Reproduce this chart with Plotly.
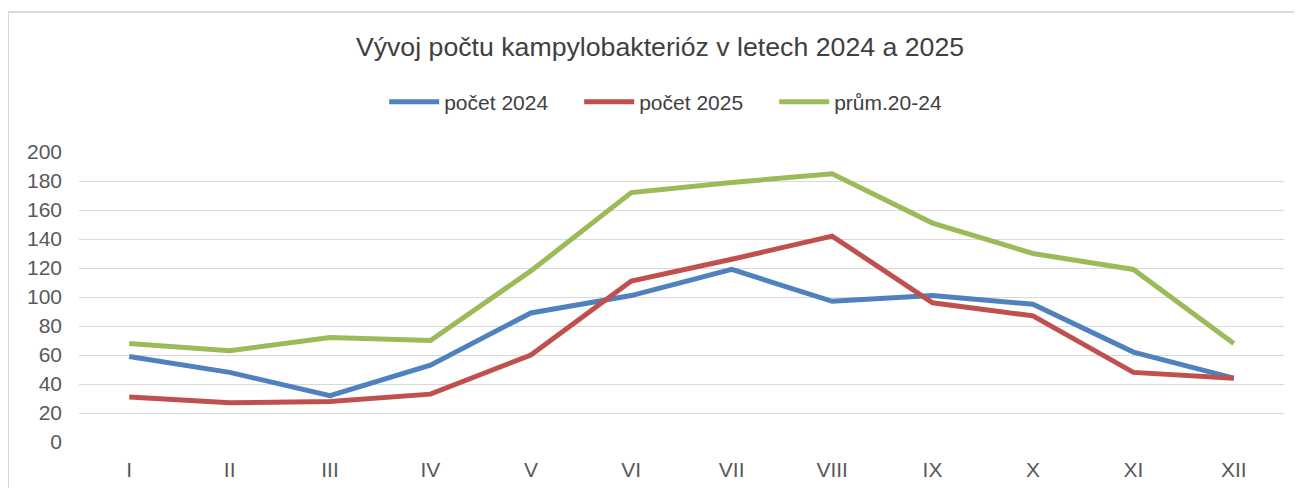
import plotly.graph_objects as go

months = ["I", "II", "III", "IV", "V", "VI", "VII", "VIII", "IX", "X", "XI", "XII"]
pocet_2024 = [59, 48, 32, 53, 89, 101, 119, 97, 101, 95, 62, 44]
pocet_2025 = [31, 27, 28, 33, 60, 111, 126, 142, 96, 87, 48, 44]
prum_20_24 = [68, 63, 72, 70, 118, 172, 179, 185, 151, 130, 119, 68]
y_ticks = [0, 20, 40, 60, 80, 100, 120, 140, 160, 180, 200]

FONT = "Liberation Sans, Arial, sans-serif"

# plot area in figure pixels (page has an 8px body margin)
L, R, T, B = 71, 1276, 144, 434
W, H = 1302, 488
PW, PH = R - L, B - T

fig = go.Figure()
for name, vals, color in [
    ("počet 2024", pocet_2024, "#4F81BD"),
    ("počet 2025", pocet_2025, "#C0504D"),
    ("prům.20-24", prum_20_24, "#9BBB59"),
]:
    fig.add_trace(go.Scatter(
        x=months, y=vals, name=name, mode="lines",
        line=dict(color=color, width=5),
    ))

fig.update_layout(
    width=W, height=H,
    paper_bgcolor="white", plot_bgcolor="white",
    margin=dict(l=L, r=W - R, t=T, b=H - B),
    font=dict(family=FONT, color="#595959", size=21),
    title=dict(
        text="Vývoj počtu kampylobakterióz v letech 2024 a 2025",
        x=652 / W, xanchor="center", y=1 - 39 / H, yanchor="middle",
        font=dict(family=FONT, size=26.7, color="#404040"),
    ),
    showlegend=True,
    legend=dict(
        orientation="h", x=0.496, xanchor="center", y=1 + (T - 94) / PH, yanchor="middle",
        font=dict(family=FONT, size=21, color="#404040"),
        itemwidth=50, entrywidth=130, tracegroupgap=0,
        bgcolor="rgba(0,0,0,0)",
    ),
    xaxis=dict(
        type="category", categoryorder="array", categoryarray=months,
        showgrid=False, showline=False, zeroline=False, ticks="",
        ticklabelstandoff=13, range=[-0.5, 11.5],
    ),
    yaxis=dict(
        range=[0, 200], tickvals=y_ticks, showgrid=True, gridcolor="#D9D9D9",
        gridwidth=1, zeroline=False, showline=False, ticks="",
        ticklabelstandoff=16,
    ),
    shapes=[dict(
        type="rect", xref="paper", yref="paper",
        x0=(0 - L) / PW, x1=1.2, y0=-0.5, y1=(B - 4) / PH,
        line=dict(color="#D9D9D9", width=2), fillcolor="rgba(0,0,0,0)", layer="below",
    )],
)

fig.write_html("out.html")
